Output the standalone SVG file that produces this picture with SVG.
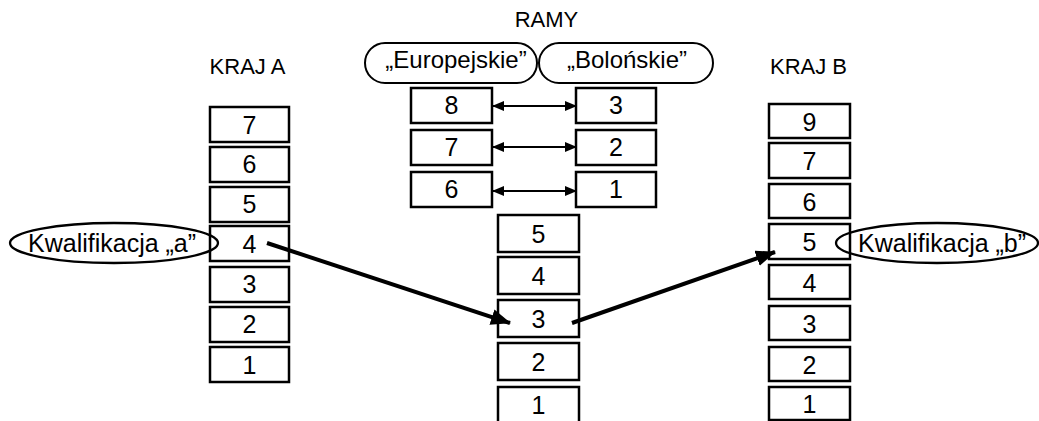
<svg xmlns="http://www.w3.org/2000/svg" width="1039" height="421" viewBox="0 0 1039 421">
<defs>
<style>
text{font-family:"Liberation Sans",Arial,sans-serif;fill:#000}
.box{fill:#fff;stroke:#000;stroke-width:2.5}
.num{font-size:25px;text-anchor:middle}
.pt{font-size:24px;text-anchor:middle}
.lbl{font-size:22px;text-anchor:middle}
.pill{fill:#fff;stroke:#000;stroke-width:2}
.ell{fill:none;stroke:#000;stroke-width:2.3}
.big{stroke:#000;stroke-width:4;fill:none}
.dbl{stroke:#000;stroke-width:2;fill:none}
</style>
<marker id="ah" viewBox="0 0 20 16" refX="19" refY="8" markerWidth="20" markerHeight="16" markerUnits="userSpaceOnUse" orient="auto">
<path d="M0,0 L20,8 L0,16 z" fill="#000"/>
</marker>
<marker id="sa" viewBox="0 0 12 10" refX="11" refY="5" markerWidth="12" markerHeight="10" markerUnits="userSpaceOnUse" orient="auto">
<path d="M0,0 L12,5 L0,10 z" fill="#000"/>
</marker>
<marker id="sas" viewBox="0 0 12 10" refX="1" refY="5" markerWidth="12" markerHeight="10" markerUnits="userSpaceOnUse" orient="auto">
<path d="M12,0 L0,5 L12,10 z" fill="#000"/>
</marker>
</defs>
<rect width="1039" height="421" fill="#fff"/>

<g id="titles">
<text class="lbl" x="546.5" y="27">RAMY</text>
<text class="lbl" x="247.5" y="74">KRAJ A</text>
<text class="lbl" x="808.5" y="74">KRAJ B</text>
</g>

<g id="frame-europejskie">
<rect class="pill" x="365" y="43" width="172" height="40" rx="20"/>
<text class="pt" x="456" y="68">„Europejskie”</text>
</g>
<g id="frame-bolonskie">
<rect class="pill" x="539" y="43" width="174" height="40" rx="20"/>
<text class="pt" x="627" y="68">„Bolońskie”</text>
</g>

<g id="eu-8"><rect class="box" x="411" y="88" width="81" height="35"/><text class="num" x="451.5" y="114">8</text></g>
<g id="eu-7"><rect class="box" x="411" y="130" width="81" height="35"/><text class="num" x="451.5" y="156">7</text></g>
<g id="eu-6"><rect class="box" x="411" y="172" width="81" height="35"/><text class="num" x="451.5" y="198">6</text></g>
<g id="bo-3"><rect class="box" x="576" y="88" width="80" height="35"/><text class="num" x="616" y="114">3</text></g>
<g id="bo-2"><rect class="box" x="576" y="130" width="80" height="35"/><text class="num" x="616" y="156">2</text></g>
<g id="bo-1"><rect class="box" x="576" y="172" width="80" height="35"/><text class="num" x="616" y="198">1</text></g>

<g id="a-7"><rect class="box" x="210" y="107" width="79" height="35"/><text class="num" x="249.5" y="134">7</text></g>
<g id="a-6"><rect class="box" x="210" y="147" width="79" height="35"/><text class="num" x="249.5" y="173">6</text></g>
<g id="a-5"><rect class="box" x="210" y="187" width="79" height="35"/><text class="num" x="249.5" y="213">5</text></g>
<g id="a-4"><rect class="box" x="210" y="226" width="79" height="35"/><text class="num" x="249.5" y="253">4</text></g>
<g id="a-3"><rect class="box" x="210" y="267" width="79" height="35"/><text class="num" x="249.5" y="293">3</text></g>
<g id="a-2"><rect class="box" x="210" y="307" width="79" height="35"/><text class="num" x="249.5" y="333">2</text></g>
<g id="a-1"><rect class="box" x="210" y="347" width="79" height="35"/><text class="num" x="249.5" y="374">1</text></g>

<g id="r-5"><rect class="box" x="498" y="215" width="81" height="37"/><text class="num" x="538.5" y="243">5</text></g>
<g id="r-4"><rect class="box" x="498" y="257" width="81" height="37"/><text class="num" x="538.5" y="285">4</text></g>
<g id="r-3"><rect class="box" x="498" y="300" width="81" height="37"/><text class="num" x="538.5" y="328">3</text></g>
<g id="r-2"><rect class="box" x="498" y="343" width="81" height="37"/><text class="num" x="538.5" y="371">2</text></g>
<g id="r-1"><rect class="box" x="498" y="387" width="81" height="37"/><text class="num" x="538.5" y="414">1</text></g>

<g id="b-9"><rect class="box" x="769" y="104" width="81" height="34"/><text class="num" x="809.5" y="131">9</text></g>
<g id="b-7"><rect class="box" x="769" y="143" width="81" height="35"/><text class="num" x="809.5" y="170">7</text></g>
<g id="b-6"><rect class="box" x="769" y="184" width="81" height="34"/><text class="num" x="809.5" y="211">6</text></g>
<g id="b-5"><rect class="box" x="769" y="224" width="81" height="35"/><text class="num" x="809.5" y="251">5</text></g>
<g id="b-4"><rect class="box" x="769" y="265" width="81" height="34"/><text class="num" x="809.5" y="292">4</text></g>
<g id="b-3"><rect class="box" x="769" y="306" width="81" height="34"/><text class="num" x="809.5" y="333">3</text></g>
<g id="b-2"><rect class="box" x="769" y="347" width="81" height="34"/><text class="num" x="809.5" y="374">2</text></g>
<g id="b-1"><rect class="box" x="769" y="387" width="81" height="33"/><text class="num" x="809.5" y="413">1</text></g>

<g id="kwal-a">
<ellipse class="ell" cx="114" cy="243" rx="104" ry="20"/>
<text x="28" y="252" style="font-size:25px">Kwalifikacja „a”</text>
</g>
<g id="kwal-b">
<ellipse class="ell" cx="937" cy="243" rx="101" ry="20"/>
<text x="858" y="252" style="font-size:25px">Kwalifikacja „b”</text>
</g>

<g id="connectors">
<line class="dbl" x1="493" y1="106" x2="576" y2="106" marker-start="url(#sas)" marker-end="url(#sa)"/>
<line class="dbl" x1="493" y1="147" x2="576" y2="147" marker-start="url(#sas)" marker-end="url(#sa)"/>
<line class="dbl" x1="493" y1="191" x2="576" y2="191" marker-start="url(#sas)" marker-end="url(#sa)"/>
<line class="big" x1="267" y1="243" x2="510" y2="323" marker-end="url(#ah)"/>
<line class="big" x1="572" y1="323" x2="775" y2="252" marker-end="url(#ah)"/>
</g>
</svg>
